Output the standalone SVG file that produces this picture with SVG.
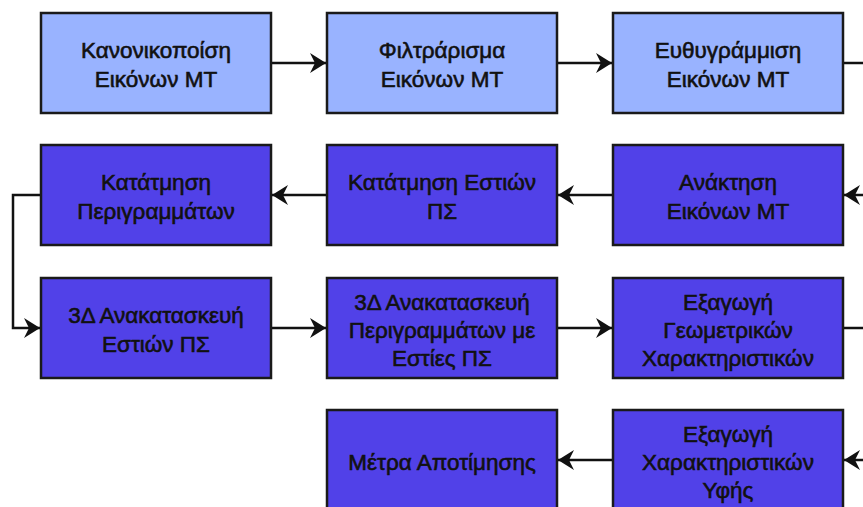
<svg xmlns="http://www.w3.org/2000/svg" width="863" height="507" viewBox="0 0 863 507">
<style>
  .box { stroke: #1a1a1a; stroke-width: 2.5; }
  .light { fill: #99B3FF; }
  .dark { fill: #5141E8; }
  .lbl { font-family: "Liberation Sans", Arial, sans-serif; font-size: 22.5px; fill: #111; stroke: #111; stroke-width: 0.6; text-anchor: middle; }
  .edge { fill: none; stroke: #111; stroke-width: 2.5; }
</style>
<defs>
  <marker id="arr" markerUnits="userSpaceOnUse" markerWidth="20" markerHeight="22" viewBox="-17 -11 18 22" refX="0" refY="0" orient="auto">
    <path d="M0,0 L-16,-10 L-11,0 L-16,10 Z" fill="#111"/>
  </marker>
</defs>
<rect width="863" height="507" fill="#ffffff"/>

<g id="connectors">
  <line class="edge" x1="271" y1="63" x2="326" y2="63" marker-end="url(#arr)"/>
  <line class="edge" x1="557" y1="63" x2="612" y2="63" marker-end="url(#arr)"/>
  <line class="edge" x1="843" y1="63" x2="870" y2="63"/>
  <line class="edge" x1="875" y1="195" x2="844" y2="195" marker-end="url(#arr)"/>
  <line class="edge" x1="613" y1="195" x2="558" y2="195" marker-end="url(#arr)"/>
  <line class="edge" x1="327" y1="195" x2="272" y2="195" marker-end="url(#arr)"/>
  <polyline class="edge" points="41,195 13,195 13,328 40,328" marker-end="url(#arr)"/>
  <line class="edge" x1="271" y1="328" x2="326" y2="328" marker-end="url(#arr)"/>
  <line class="edge" x1="557" y1="328" x2="612" y2="328" marker-end="url(#arr)"/>
  <line class="edge" x1="843" y1="328" x2="870" y2="328"/>
  <line class="edge" x1="875" y1="460" x2="844" y2="460" marker-end="url(#arr)"/>
  <line class="edge" x1="613" y1="460" x2="558" y2="460" marker-end="url(#arr)"/>
</g>

<g id="n1">
  <rect class="box light" x="41" y="13" width="230" height="100"/>
  <text class="lbl"><tspan x="156" y="58">Κανονικοποίση</tspan><tspan x="156" y="87">Εικόνων ΜΤ</tspan></text>
</g>
<g id="n2">
  <rect class="box light" x="327" y="13" width="230" height="100"/>
  <text class="lbl"><tspan x="442" y="58">Φιλτράρισμα</tspan><tspan x="442" y="87">Εικόνων ΜΤ</tspan></text>
</g>
<g id="n3">
  <rect class="box light" x="613" y="13" width="230" height="100"/>
  <text class="lbl"><tspan x="728" y="58">Ευθυγράμμιση</tspan><tspan x="728" y="87">Εικόνων ΜΤ</tspan></text>
</g>

<g id="n4">
  <rect class="box dark" x="613" y="145" width="230" height="100"/>
  <text class="lbl"><tspan x="728" y="190">Ανάκτηση</tspan><tspan x="728" y="219">Εικόνων ΜΤ</tspan></text>
</g>
<g id="n5">
  <rect class="box dark" x="327" y="145" width="230" height="100"/>
  <text class="lbl"><tspan x="442" y="190">Κατάτμηση Εστιών</tspan><tspan x="442" y="219">ΠΣ</tspan></text>
</g>
<g id="n6">
  <rect class="box dark" x="41" y="145" width="230" height="100"/>
  <text class="lbl"><tspan x="156" y="190">Κατάτμηση</tspan><tspan x="156" y="219">Περιγραμμάτων</tspan></text>
</g>

<g id="n7">
  <rect class="box dark" x="41" y="278" width="230" height="100"/>
  <text class="lbl"><tspan x="156" y="323">3Δ Ανακατασκευή</tspan><tspan x="156" y="352">Εστιών ΠΣ</tspan></text>
</g>
<g id="n8">
  <rect class="box dark" x="327" y="278" width="230" height="100"/>
  <text class="lbl"><tspan x="442" y="310">3Δ Ανακατασκευή</tspan><tspan x="442" y="338">Περιγραμμάτων με</tspan><tspan x="442" y="366">Εστίες ΠΣ</tspan></text>
</g>
<g id="n9">
  <rect class="box dark" x="613" y="278" width="230" height="100"/>
  <text class="lbl"><tspan x="728" y="310">Εξαγωγή</tspan><tspan x="728" y="338">Γεωμετρικών</tspan><tspan x="728" y="366">Χαρακτηριστικών</tspan></text>
</g>

<g id="n10">
  <rect class="box dark" x="613" y="410" width="230" height="100"/>
  <text class="lbl"><tspan x="728" y="442">Εξαγωγή</tspan><tspan x="728" y="470">Χαρακτηριστικών</tspan><tspan x="728" y="498">Υφής</tspan></text>
</g>
<g id="n11">
  <rect class="box dark" x="327" y="410" width="230" height="100"/>
  <text class="lbl"><tspan x="442" y="470">Μέτρα Αποτίμησης</tspan></text>
</g>
</svg>
